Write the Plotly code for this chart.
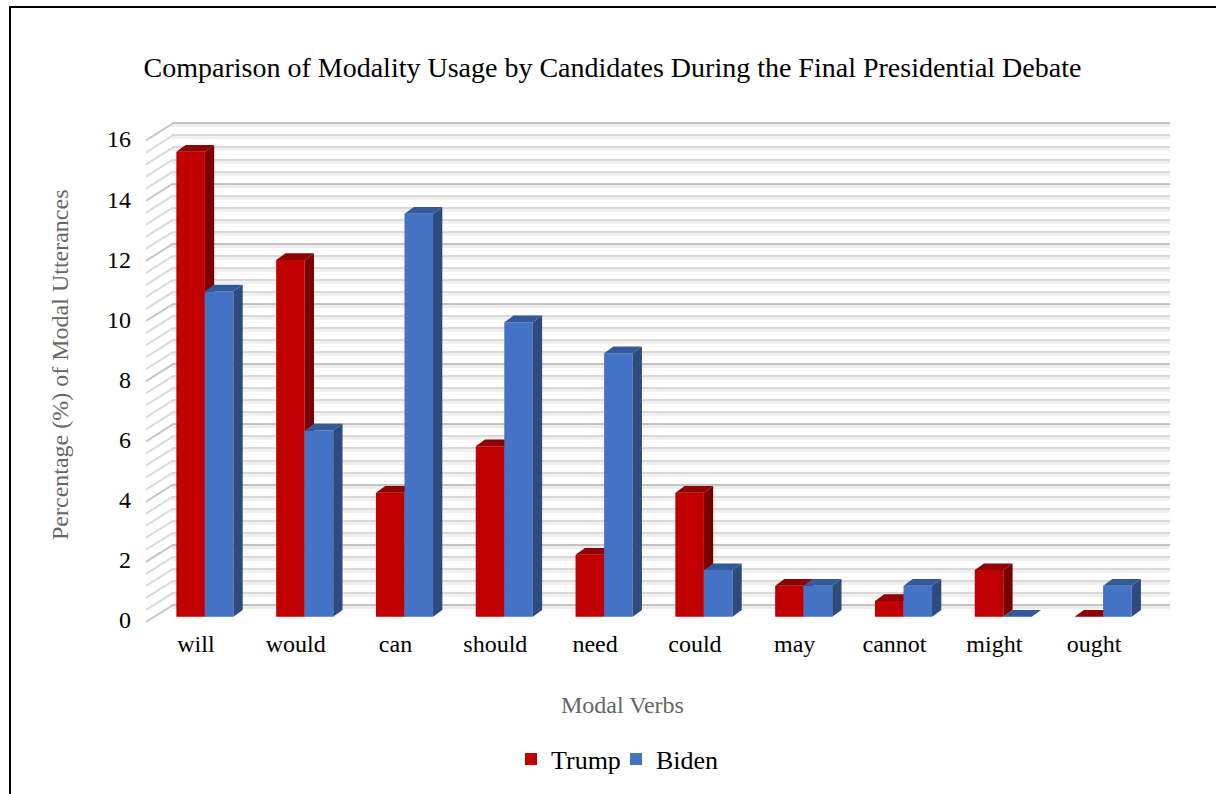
import plotly.graph_objects as go

W, H = 1216, 794

# Share (%) of modal utterances per verb for each candidate
categories = ["will", "would", "can", "should", "need", "could", "may", "cannot", "might", "ought"]
trump = [15.46, 11.86, 4.12, 5.67, 2.06, 4.12, 1.03, 0.52, 1.55, 0.00]
biden = [10.82, 6.19, 13.40, 9.79, 8.76, 1.55, 1.03, 1.03, 0.00, 1.03]
y_tick_values = [0, 2, 4, 6, 8, 10, 12, 14, 16]

FONT = "Liberation Serif, Times New Roman, serif"
AXIS_TITLE_GREY = "#666666"
TRUMP_COLORS = dict(front="#C00000", side="#7A0000", top="#8F0000")
BIDEN_COLORS = dict(front="#4472C4", side="#2D4B7F", top="#34599A")

# bar geometry in data units (category spacing = 1)
BAR_W = 0.286
DEPTH_X = 0.093   # extrusion to the right
DEPTH_Y = 0.223   # extrusion upwards
MINOR_STEP = 0.4
MAJOR_EVERY = 5


def x_dom(a, b):
    return [a / W, b / W]


def y_dom(zero_px, px_per_unit, lo, hi):
    top = zero_px - hi * px_per_unit
    bottom = zero_px - lo * px_per_unit
    return [1 - bottom / H, 1 - top / H]


def hidden_axis(domain, rng, anchor):
    return dict(domain=domain, range=rng, anchor=anchor, showgrid=False,
                zeroline=False, showline=False, showticklabels=False,
                ticks="", fixedrange=True)


def grid_axis(domain, rng, anchor, major_color, minor_color, width):
    ax = hidden_axis(domain, rng, anchor)
    ax.update(showgrid=True, gridcolor=major_color, gridwidth=width,
              tick0=0, dtick=2,
              minor=dict(dtick=MINOR_STEP, showgrid=True,
                         gridcolor=minor_color, gridwidth=width))
    return ax


def faces(values, left_shift):
    """Side and top faces of extruded bars, as None-separated polygons."""
    sx, sy, tx, ty = [], [], [], []
    for i, v in enumerate(values):
        xl = i + left_shift
        xr = xl + BAR_W
        sx += [xr, xr + DEPTH_X, xr + DEPTH_X, xr, xr, None]
        sy += [0, DEPTH_Y, v + DEPTH_Y, v, 0, None]
        tx += [xl, xl + DEPTH_X, xr + DEPTH_X, xr, xl, None]
        ty += [v, v + DEPTH_Y, v + DEPTH_Y, v, v, None]
    return sx, sy, tx, ty


fig = go.Figure()

# back wall grid (soft shadow layer, then the lines themselves)
fig.add_trace(go.Scatter(x=[None], y=[None], xaxis="x", yaxis="y",
                         showlegend=False, hoverinfo="skip"))
fig.add_trace(go.Scatter(x=[None], y=[None], xaxis="x2", yaxis="y2",
                         showlegend=False, hoverinfo="skip"))

# left side wall: slanted grid lines running from the front edge to the wall
side_off = 17 / 30.1
minor_x, minor_y, major_x, major_y = [], [], [], []
for k in range(41):
    v = round(k * MINOR_STEP, 1)
    if k % MAJOR_EVERY == 0:
        major_x += [0, 1, None]
        major_y += [v - side_off, v, None]
    else:
        minor_x += [0, 1, None]
        minor_y += [v - side_off, v, None]
fig.add_trace(go.Scatter(x=minor_x, y=minor_y, mode="lines", xaxis="x3", yaxis="y3",
                         line=dict(color="#DADADA", width=2),
                         showlegend=False, hoverinfo="skip"))
fig.add_trace(go.Scatter(x=major_x, y=major_y, mode="lines", xaxis="x3", yaxis="y3",
                         line=dict(color="#C6C6C6", width=2),
                         showlegend=False, hoverinfo="skip"))

# extruded bars: one subplot per candidate so Biden's bars sit in front
for name, values, shift, colors, xa, ya in [
    ("Trump", trump, -BAR_W, TRUMP_COLORS, "x4", "y4"),
    ("Biden", biden, 0.0, BIDEN_COLORS, "x5", "y5"),
]:
    fig.add_trace(go.Bar(x=list(range(len(categories))), y=values, width=BAR_W,
                         offset=shift, name=name, xaxis=xa, yaxis=ya,
                         marker=dict(color=colors["front"], line=dict(width=0)),
                         hoverinfo="skip"))
    sx, sy, tx, ty = faces(values, shift)
    fig.add_trace(go.Scatter(x=sx, y=sy, mode="lines", fill="toself",
                             fillcolor=colors["side"], line=dict(width=0),
                             xaxis=xa, yaxis=ya, showlegend=False, hoverinfo="skip"))
    fig.add_trace(go.Scatter(x=tx, y=ty, mode="lines", fill="toself",
                             fillcolor=colors["top"], line=dict(width=0),
                             xaxis=xa, yaxis=ya, showlegend=False, hoverinfo="skip"))

# axis labels along the front edge
fig.add_trace(go.Scatter(x=[None], y=[None], xaxis="x6", yaxis="y6",
                         showlegend=False, hoverinfo="skip"))

wall_x = x_dom(172, 1170)
bars_x = x_dom(155, 1153)
label_x = x_dom(146, 1144)
bars_range = [-0.3, 16.5]
wall_range = [-0.25, 16.25]
side_range = [-0.8, 16.25]
label_range = [-0.05, 16.05]

fig.update_layout(
    width=W, height=H,
    margin=dict(l=0, r=0, t=0, b=0),
    paper_bgcolor="white",
    plot_bgcolor="rgba(0,0,0,0)",
    template="none",
    hovermode=False,
    font=dict(family=FONT, color="black"),
    showlegend=True,
    xaxis=hidden_axis(wall_x, [0, 1], "y"),
    yaxis=grid_axis(y_dom(607.5, 30.1, *wall_range), wall_range, "x",
                    "#EDEDED", "#F1F1F1", 3),
    xaxis2=hidden_axis(wall_x, [0, 1], "y2"),
    yaxis2=grid_axis(y_dom(605, 30.1, *wall_range), wall_range, "x2",
                     "#C3C3C3", "#D9D9D9", 2),
    xaxis3=hidden_axis(x_dom(146, 173), [0, 1], "y3"),
    yaxis3=hidden_axis(y_dom(605, 30.1, *side_range), side_range, "x3"),
    xaxis4=hidden_axis(bars_x, [-0.5, 9.5], "y4"),
    yaxis4=hidden_axis(y_dom(616.7, 30.07, *bars_range), bars_range, "x4"),
    xaxis5=hidden_axis(bars_x, [-0.5, 9.5], "y5"),
    yaxis5=hidden_axis(y_dom(616.7, 30.07, *bars_range), bars_range, "x5"),
    xaxis6=dict(domain=label_x, range=[-0.5, 9.5], anchor="y6",
                tickmode="array", tickvals=list(range(len(categories))),
                ticktext=categories, tickfont=dict(size=24, color="black"),
                ticks="", showline=False, showgrid=False, zeroline=False,
                ticklabelstandoff=5, fixedrange=True),
    yaxis6=dict(domain=y_dom(620, 30.06, *label_range), range=label_range, anchor="x6",
                tickmode="array", tickvals=y_tick_values,
                tickfont=dict(size=24, color="black"),
                ticks="", showline=False, showgrid=False, zeroline=False,
                ticklabelstandoff=14, fixedrange=True),
    title=dict(text="Comparison of Modality Usage by Candidates During the Final Presidential Debate",
               x=612.5 / W, y=1 - 67 / H, xref="container", yref="container",
               xanchor="center", yanchor="middle",
               font=dict(size=28, color="black", family=FONT)),
    annotations=[
        dict(text="Percentage (%) of Modal Utterances", textangle=-90,
             xref="paper", yref="paper", x=60 / W, y=1 - 365 / H,
             xanchor="center", yanchor="middle", showarrow=False,
             font=dict(size=24, color=AXIS_TITLE_GREY, family=FONT)),
        dict(text="Modal Verbs",
             xref="paper", yref="paper", x=622 / W, y=1 - 705 / H,
             xanchor="center", yanchor="middle", showarrow=False,
             font=dict(size=24, color=AXIS_TITLE_GREY, family=FONT)),
    ],
    legend=dict(orientation="h", x=616 / W, xanchor="center",
                y=1 - 759 / H, yanchor="middle", entrywidth=60,
                bgcolor="rgba(0,0,0,0)", font=dict(size=26, color="black"),
                traceorder="normal"),
    shapes=[dict(type="rect", xref="paper", yref="paper",
                 x0=10 / W, x1=1.05, y0=-0.05, y1=1 - 7 / H,
                 line=dict(color="black", width=2), fillcolor="rgba(0,0,0,0)",
                 layer="above")],
)

fig.write_html("out.html")
